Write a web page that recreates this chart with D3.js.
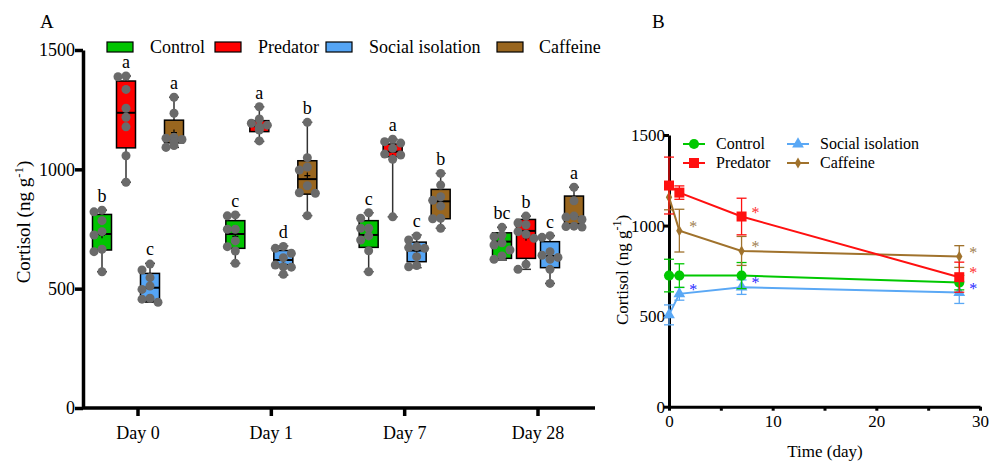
<!DOCTYPE html>
<html><head><meta charset="utf-8">
<script src="https://cdn.jsdelivr.net/npm/d3@7"></script>
<style>
html,body{margin:0;padding:0;background:#fff;}
svg{display:block;font-family:"Liberation Serif","Times New Roman",serif;}
</style></head>
<body><svg id="c" width="991" height="464"></svg>
<script>
// ---------- Panel A data ----------
const days = ["Day 0", "Day 1", "Day 7", "Day 28"];
const groups = ["Control", "Predator", "Social isolation", "Caffeine"];
const yTicksA = [0, 500, 1000, 1500];

// individual points per day
const controlDots = [
  [829, 822, 785, 739, 725, 665, 655, 571],
  [809, 805, 749, 749, 700, 676, 658, 606],
  [818, 795, 753, 753, 721, 704, 659, 571],
  [757, 725, 718, 692, 683, 662, 637, 623]
];
const predatorDots = [
  [1391, 1388, 1335, 1256, 1218, 1178, 1057, 946],
  [1262, 1211, 1193, 1185, 1178, 1172, 1165, 1119],
  [1126, 1116, 1110, 1088, 1064, 1060, 1042, 801],
  [804, 775, 768, 739, 728, 711, 602, 581]
];
const isolationDots = [
  [603, 578, 546, 511, 497, 460, 456, 443],
  [677, 669, 648, 630, 599, 592, 590, 560],
  [721, 704, 676, 672, 669, 634, 597, 592],
  [722, 715, 655, 640, 631, 623, 581, 522]
];
const caffeineDots = [
  [1302, 1235, 1134, 1130, 1125, 1115, 1100, 1092],
  [1197, 1049, 1010, 997, 931, 902, 900, 806],
  [983, 934, 885, 870, 846, 795, 793, 753],
  [925, 868, 804, 800, 790, 762, 760, 758]
];
// box stats per day: [min, q1, median, q3, max]
const controlBox = [
  [571, 662, 729, 811, 829],
  [606, 669, 729, 785, 809],
  [571, 673, 725, 785, 818],
  [620, 627, 697, 734, 757]
];
const predatorBox = [
  [946, 1090, 1237, 1370, 1391],
  [1117, 1158, 1181, 1204, 1262],
  [801, 1053, 1074, 1106, 1126],
  [581, 627, 742, 790, 804]
];
const isolationBox = [
  [443, 448, 504, 564, 606],
  [557, 600, 620, 660, 679],
  [588, 613, 660, 695, 725],
  [522, 588, 637, 697, 722]
];
const caffeineBox = [
  [1092, 1111, 1128, 1206, 1302],
  [806, 896, 959, 1036, 1197],
  [753, 793, 866, 916, 983],
  [758, 771, 800, 888, 925]
];
const controlLetters = ["b", "c", "c", "bc"];
const predatorLetters = ["a", "a", "a", "b"];
const isolationLetters = ["c", "d", "c", "c"];
const caffeineLetters = ["a", "b", "b", "a"];

// ---------- Panel B data ----------
const timeDays = [0, 1, 7, 28];
const xTicksB = [0, 10, 20, 30];
const yTicksB = [0, 500, 1000, 1500];
const controlMean = [724, 724, 724, 685];
const controlSD = [90, 65, 72, 40];
const predatorMean = [1221, 1182, 1050, 715];
const predatorSD = [157, 37, 101, 83];
const isolationMean = [507, 623, 660, 630];
const isolationSD = [55, 35, 40, 60];
const caffeineMean = [1157, 972, 860, 829];
const caffeineSD = [70, 118, 80, 60];
const predatorStars = [7, 28];
const isolationStars = [1, 7, 28];
const caffeineStars = [1, 7, 28];

// ---------- styles ----------
const boxFill = ["#00c400", "#ff0000", "#55a5f5", "#99661f"];
const lineCol = ["#00c800", "#ff1010", "#5aa8f5", "#a0722c"];
const starCol = {Predator: "#ff3030", "Social isolation": "#2828ff", Caffeine: "#a08050"};

const svg = d3.select("#c");

// =============== PANEL A ===============
const yA = d3.scaleLinear().domain([0, 1500]).range([408, 50]);
const xA = d3.scalePoint().domain(days).range([138, 538]);
const gOff = d3.scalePoint().domain(groups).range([-36, 36]);
const boxW = 19;

svg.append("text").attr("x", 40).attr("y", 28).attr("font-size", 19).text("A");

// axes
const gyA = svg.append("g").attr("transform", "translate(83,0)")
  .call(d3.axisLeft(yA).tickValues(yTicksA).tickSize(8).tickSizeOuter(0).tickFormat(d3.format("d")));
gyA.select(".domain").attr("stroke-width", 3.5);
gyA.selectAll(".tick line").attr("stroke-width", 3.5);
gyA.selectAll(".tick text").attr("font-size", 18).attr("font-family", "Liberation Serif").attr("x", -8).attr("fill", "#000");

const gxA = svg.append("g").attr("transform", "translate(0,408)");
gxA.append("line").attr("x1", 82).attr("x2", 595).attr("stroke", "#000").attr("stroke-width", 3.5);
days.forEach(d => {
  gxA.append("line").attr("x1", xA(d)).attr("x2", xA(d)).attr("y1", 0).attr("y2", 8).attr("stroke", "#000").attr("stroke-width", 3.5);
  gxA.append("text").attr("x", xA(d)).attr("y", 31).attr("text-anchor", "middle").attr("font-size", 18).text(d);
});

// y label
const ylA = svg.append("text").attr("transform", "translate(30,222) rotate(-90)").attr("text-anchor", "middle").attr("font-size", 19);
ylA.append("tspan").text("Cortisol (ng g");
ylA.append("tspan").attr("baseline-shift", "super").attr("font-size", 13).text("-1");
ylA.append("tspan").text(")");

// legend A
const legA = [[107, 150], [215, 258], [326, 369], [497, 539]];
groups.forEach((g, i) => {
  svg.append("rect").attr("x", legA[i][0]).attr("y", 42).attr("width", 26).attr("height", 10)
    .attr("fill", boxFill[i]).attr("stroke", "#000").attr("stroke-width", 1.2);
  svg.append("text").attr("x", legA[i][1]).attr("y", 53).attr("font-size", 18).text(g);
});

const allDots = [controlDots, predatorDots, isolationDots, caffeineDots];
const allBox = [controlBox, predatorBox, isolationBox, caffeineBox];
const allLetters = [controlLetters, predatorLetters, isolationLetters, caffeineLetters];

groups.forEach((g, gi) => {
  days.forEach((d, di) => {
    const cx = xA(d) + gOff(g);
    const [mn, q1, md, q3, mx] = allBox[gi][di];
    const G = svg.append("g");
    // whiskers
    G.append("line").attr("x1", cx).attr("x2", cx).attr("y1", yA(mx)).attr("y2", yA(q3)).attr("stroke", "#333").attr("stroke-width", 1.5);
    G.append("line").attr("x1", cx).attr("x2", cx).attr("y1", yA(q1)).attr("y2", yA(mn)).attr("stroke", "#333").attr("stroke-width", 1.5);
    [mn, mx].forEach(v => G.append("line").attr("x1", cx - 5).attr("x2", cx + 5).attr("y1", yA(v)).attr("y2", yA(v)).attr("stroke", "#333").attr("stroke-width", 1.5));
    // box
    G.append("rect").attr("x", cx - boxW / 2).attr("y", yA(q3)).attr("width", boxW).attr("height", yA(q1) - yA(q3))
      .attr("fill", boxFill[gi]).attr("stroke", "#000").attr("stroke-width", 1.5);
    G.append("line").attr("x1", cx - boxW / 2).attr("x2", cx + boxW / 2).attr("y1", yA(md)).attr("y2", yA(md)).attr("stroke", "#000").attr("stroke-width", 2);
    // mean +
    const mean = d3.mean(allDots[gi][di]);
    G.append("path").attr("d", `M${cx - 3},${yA(mean)}h6M${cx},${yA(mean) - 3}v6`).attr("stroke", "#000").attr("stroke-width", 1.2);
    // dots (simple beeswarm)
    const placed = [];
    const offs = [0, -8, 8, -4, 4, -10, 10];
    allDots[gi][di].forEach(v => {
      const py = yA(v);
      let ox = 0;
      for (const o of offs) {
        if (placed.every(p => Math.hypot(p[0] - o, p[1] - py) >= 7.5)) { ox = o; break; }
      }
      placed.push([ox, py]);
      G.append("circle").attr("cx", cx + ox).attr("cy", py).attr("r", 4.5).attr("fill", "#6a6a6a");
    });
    // letter
    svg.append("text").attr("x", cx).attr("y", yA(mx) - 8).attr("text-anchor", "middle").attr("font-size", 18).text(allLetters[gi][di]);
  });
});

// =============== PANEL B ===============
const xB = d3.scaleLinear().domain([0, 30]).range([669, 980]);
const yB = d3.scaleLinear().domain([0, 1500]).range([406.7, 135]);

svg.append("text").attr("x", 652).attr("y", 28).attr("font-size", 19).text("B");

const gyB = svg.append("g").attr("transform", "translate(669,0)")
  .call(d3.axisLeft(yB).tickValues(yTicksB).tickSize(5).tickSizeOuter(0).tickFormat(d3.format("d")));
gyB.select(".domain").attr("stroke-width", 3);
gyB.selectAll(".tick line").attr("stroke-width", 3);
gyB.selectAll(".tick text").attr("font-size", 17).attr("font-family", "Liberation Serif").attr("x", -4).attr("fill", "#000");

const gxB = svg.append("g").attr("transform", "translate(0,406.7)")
  .call(d3.axisBottom(xB).ticks(6).tickSize(4).tickSizeOuter(0).tickFormat(v => xTicksB.includes(v) ? v : ""));
gxB.select(".domain").attr("stroke-width", 3);
gxB.selectAll(".tick line").attr("stroke-width", 3);
gxB.selectAll(".tick text").attr("font-size", 17).attr("font-family", "Liberation Serif").attr("y", 8).attr("fill", "#000");

svg.append("text").attr("x", 825).attr("y", 457).attr("text-anchor", "middle").attr("font-size", 17).text("Time (day)");
const ylB = svg.append("text").attr("transform", "translate(628,270) rotate(-90)").attr("text-anchor", "middle").attr("font-size", 17);
ylB.append("tspan").text("Cortisol (ng g");
ylB.append("tspan").attr("baseline-shift", "super").attr("font-size", 12).text("-1");
ylB.append("tspan").text(")");

const means = [controlMean, predatorMean, isolationMean, caffeineMean];
const sds = [controlSD, predatorSD, isolationSD, caffeineSD];
const symbols = [d3.symbolCircle, d3.symbolSquare, d3.symbolTriangle, d3.symbolDiamond];
const symSize = [80, 100, 60, 35];
const lineGen = d3.line().x(d => xB(d[0])).y(d => yB(d[1]));

// draw order: isolation, control, caffeine, predator
[2, 0, 3, 1].forEach(gi => {
  const pts = timeDays.map((t, i) => [t, means[gi][i], sds[gi][i]]);
  const G = svg.append("g");
  pts.forEach(p => {
    const x = xB(p[0]);
    G.append("line").attr("x1", x).attr("x2", x).attr("y1", yB(p[1] + p[2])).attr("y2", yB(p[1] - p[2])).attr("stroke", lineCol[gi]).attr("stroke-width", 1.3);
    [p[1] + p[2], p[1] - p[2]].forEach(v => G.append("line").attr("x1", x - 5).attr("x2", x + 5).attr("y1", yB(v)).attr("y2", yB(v)).attr("stroke", lineCol[gi]).attr("stroke-width", 1.3));
  });
  G.append("path").attr("d", lineGen(pts)).attr("fill", "none").attr("stroke", lineCol[gi]).attr("stroke-width", 2);
  pts.forEach(p => G.append("path").attr("d", d3.symbol().type(symbols[gi]).size(symSize[gi])())
    .attr("transform", `translate(${xB(p[0])},${yB(p[1])})`).attr("fill", lineCol[gi]));
});

// significance stars
const starSets = [["Predator", predatorStars, predatorMean], ["Social isolation", isolationStars, isolationMean], ["Caffeine", caffeineStars, caffeineMean]];
starSets.forEach(([g, ds, m]) => {
  ds.forEach(d => {
    const i = timeDays.indexOf(d);
    svg.append("text").attr("x", xB(d) + 10).attr("y", yB(m[i]) + 1).attr("font-size", 16)
      .attr("fill", starCol[g]).text("*");
  });
});

// legend B
const legB = [[683, 144], [683, 163], [787, 144], [787, 163]];
groups.forEach((g, gi) => {
  const [lx, ly] = legB[gi];
  svg.append("line").attr("x1", lx).attr("x2", lx + 22).attr("y1", ly).attr("y2", ly).attr("stroke", lineCol[gi]).attr("stroke-width", 2);
  svg.append("path").attr("d", d3.symbol().type(symbols[gi]).size(symSize[gi])()).attr("transform", `translate(${lx + 11},${ly})`).attr("fill", lineCol[gi]);
  svg.append("text").attr("x", lx + 33).attr("y", ly + 5).attr("font-size", 16).text(g);
});
</script></body></html>
